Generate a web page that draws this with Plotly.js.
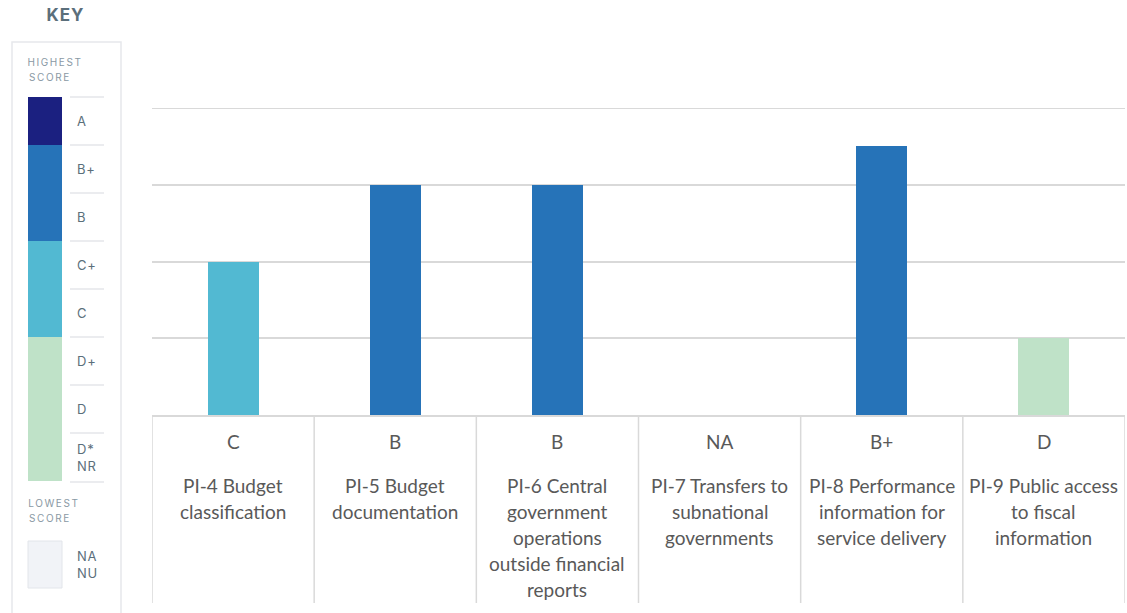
<!DOCTYPE html>
<html>
<head>
<meta charset="utf-8">
<script src="https://cdn.plot.ly/plotly-3.0.1.min.js"></script>
<style>
  html, body { margin: 0; padding: 0; background: #fff; }
  #chart { width: 1127px; height: 613px; }
</style>
</head>
<body>
<div id="chart"></div>
<script>
// ---- data ----
const categories = [
  'PI-4 Budget<br>classification',
  'PI-5 Budget<br>documentation',
  'PI-6 Central<br>government<br>operations<br>outside financial<br>reports',
  'PI-7 Transfers to<br>subnational<br>governments',
  'PI-8 Performance<br>information for<br>service delivery',
  'PI-9 Public access<br>to fiscal<br>information'
];
const grades = ['C', 'B', 'B', 'NA', 'B+', 'D'];

const scaleGrades = ['A', 'B+', 'B', 'C+', 'C', 'D+', 'D', 'D*<br>NR'];
const scaleScores = [4, 3.5, 3, 2.5, 2, 1.5, 1, 0.5];
const scaleColors = ['#1b2080', '#2673b8', '#2673b8', '#52b9d2', '#52b9d2', '#bfe2c8', '#bfe2c8', '#bfe2c8'];
const noScoreLabel = 'NA<br>NU';

// ---- geometry helpers (pixel -> paper) ----
const W = 1127, H = 613;
const M = { l: 152, r: 2, t: 108, b: 198 };
const PW = W - M.l - M.r, PH = H - M.t - M.b;
const px = x => (x - M.l) / PW;
const py = y => (H - M.b - y) / PH;

const scoreOf = g => {
  const i = scaleGrades.indexOf(g);
  return i >= 0 ? scaleScores[i] : null;
};
const colorOf = g => {
  const i = scaleGrades.indexOf(g);
  return i >= 0 ? scaleColors[i] : '#f1f3f7';
};

const trace = {
  type: 'bar',
  x: categories,
  y: grades.map(scoreOf),
  width: 0.315,
  marker: { color: grades.map(colorOf), line: { width: 0 } },
  hoverinfo: 'skip'
};

const shapes = [];
const annotations = [];
const gridColor = '#d9d9d9';
const textColor = '#595959';

// top gridline (range edge)
shapes.push({ type: 'line', xref: 'paper', yref: 'y', x0: 0, x1: 1, y0: 4, y1: 4,
  line: { color: gridColor, width: 2 } });

// cell borders below axis
for (let i = 0; i <= categories.length; i++) {
  shapes.push({ type: 'line', xref: 'x', yref: 'paper', x0: i - 0.5, x1: i - 0.5,
    y0: 0, y1: py(603), line: { color: gridColor, width: 1.5 } });
}

// category grade + label text
categories.forEach((c, i) => {
  annotations.push({ xref: 'x', yref: 'paper', x: c, y: py(441), text: grades[i],
    showarrow: false, xanchor: 'center', yanchor: 'middle',
    font: { family: 'Lato, "Open Sans", sans-serif', size: 19, color: textColor } });
  c.split('<br>').forEach((line, k) => {
    annotations.push({ xref: 'x', yref: 'paper', x: c, y: py(485 + 26 * k), text: line,
      showarrow: false, xanchor: 'center', yanchor: 'middle',
      font: { family: 'Lato, "Open Sans", sans-serif', size: 19, color: textColor } });
  });
});

// ---- key panel ----
const keyColor = '#5b6f7b';
const keySmall = '#8a99a4';
shapes.push({ type: 'rect', xref: 'paper', yref: 'paper', x0: px(12), x1: px(121),
  y0: py(42), y1: py(640), line: { color: '#e6e8ec', width: 1.5 }, fillcolor: 'rgba(0,0,0,0)' });

annotations.push({ xref: 'paper', yref: 'paper', x: px(66), y: py(15), text: '<b>KEY</b>',
  showarrow: false, xanchor: 'center', yanchor: 'middle',
  font: { family: 'Inter, Lato, sans-serif', size: 17, color: keyColor } });

['HIGHEST', 'SCORE'].forEach((t, k) => annotations.push({ xref: 'paper', yref: 'paper',
  x: px(31), y: py(62 + 15 * k), text: t, showarrow: false, xanchor: 'left', yanchor: 'middle',
  font: { family: 'Inter, Lato, sans-serif', size: 10, color: keySmall } }));
['LOWEST', 'SCORE'].forEach((t, k) => annotations.push({ xref: 'paper', yref: 'paper',
  x: px(31), y: py(503 + 15 * k), text: t, showarrow: false, xanchor: 'left', yanchor: 'middle',
  font: { family: 'Inter, Lato, sans-serif', size: 10, color: keySmall } }));

const bandTop = 97, bandH = 48;
scaleGrades.forEach((g, i) => {
  const y0 = bandTop + bandH * i;
  shapes.push({ type: 'rect', xref: 'paper', yref: 'paper', x0: px(28), x1: px(62),
    y0: py(y0), y1: py(y0 + bandH), line: { width: 0 }, fillcolor: scaleColors[i], layer: 'below' });
  shapes.push({ type: 'line', xref: 'paper', yref: 'paper', x0: px(70), x1: px(104),
    y0: py(y0), y1: py(y0), line: { color: '#e4e6ea', width: 1.5 } });
  annotations.push({ xref: 'paper', yref: 'paper', x: px(75), y: py(y0 + bandH / 2), text: g,
    showarrow: false, xanchor: 'left', yanchor: 'middle', align: 'left',
    font: { family: 'Inter, Lato, sans-serif', size: 13, color: keyColor } });
});
shapes.push({ type: 'line', xref: 'paper', yref: 'paper', x0: px(70), x1: px(104),
  y0: py(482), y1: py(482), line: { color: '#e4e6ea', width: 1.5 } });

shapes.push({ type: 'rect', xref: 'paper', yref: 'paper', x0: px(28), x1: px(62),
  y0: py(541), y1: py(588), line: { color: '#e2e5ea', width: 1 }, fillcolor: '#f1f3f7' });
annotations.push({ xref: 'paper', yref: 'paper', x: px(75), y: py(564), text: noScoreLabel,
  showarrow: false, xanchor: 'left', yanchor: 'middle', align: 'left',
  font: { family: 'Inter, Lato, sans-serif', size: 13, color: keyColor } });

const layout = {
  width: W, height: H,
  margin: M,
  paper_bgcolor: '#ffffff', plot_bgcolor: '#ffffff',
  showlegend: false,
  bargap: 0,
  xaxis: { range: [-0.5, categories.length - 0.5], showticklabels: false, ticks: '',
    showgrid: false, zeroline: false, showline: true, linecolor: gridColor, linewidth: 2, fixedrange: true },
  yaxis: { range: [0, 4], dtick: 1, showticklabels: false, ticks: '', showgrid: true,
    gridcolor: gridColor, gridwidth: 2, zeroline: false, showline: false, fixedrange: true },
  shapes, annotations
};

Plotly.newPlot('chart', [trace], layout, { displayModeBar: false, staticPlot: true }).then(() => {
  document.querySelectorAll('#chart .annotation-text').forEach(el => {
    const t = el.textContent;
    if (t === 'HIGHEST' || t === 'SCORE' || t === 'LOWEST') el.style.letterSpacing = '1.6px';
    if (t === 'KEY') el.style.letterSpacing = '1px';
    if (['A','B+','B','C+','C','D+','D','D*NR','NANU'].includes(t) && el.closest('.annotation')) {
      const g = el.closest('.annotation');
      const x = parseFloat(g.getAttribute('data-index'));
      if (x >= annotations.length - 10) el.style.letterSpacing = '0.8px';
    }
  });
});
</script>
</body>
</html>
